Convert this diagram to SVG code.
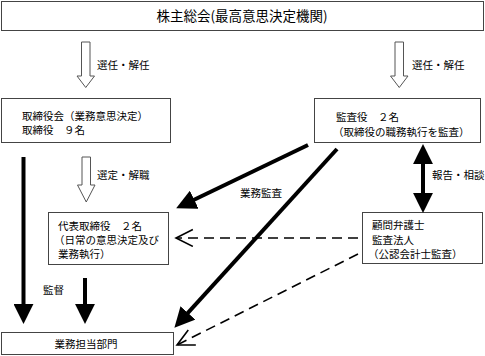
<svg xmlns="http://www.w3.org/2000/svg" width="485" height="356" viewBox="0 0 485 356">
<style>
.box{fill:#fff;stroke:#444;stroke-width:1}
.t{font-family:"Noto Sans CJK JP","Noto Sans",sans-serif;font-size:10.5px;fill:#000}
.title{font-size:13.5px}
.hollow{fill:#fff;stroke:#555;stroke-width:1}
.thick{stroke:#000;stroke-width:4;fill:none}
.dash{stroke:#000;stroke-width:1.6;fill:none;stroke-dasharray:10 6}
</style>
<defs>
<marker id="head" markerUnits="userSpaceOnUse" markerWidth="20" markerHeight="20" viewBox="0 0 18 18" refX="10" refY="9" orient="auto-start-reverse">
<path d="M0,0 L18,9 L0,18 z" fill="#000"/>
</marker>
<marker id="open" markerUnits="userSpaceOnUse" markerWidth="20" markerHeight="20" viewBox="-1 -1 19 19" refX="16" refY="8" orient="auto">
<path d="M0,0 L16,8 L0,16" fill="none" stroke="#000" stroke-width="1.5"/>
</marker>
</defs>

<g id="node-shareholders">
<rect class="box" x="1.5" y="1.5" width="482" height="29"/>
<text class="t title" x="242" y="20.5" text-anchor="middle">株主総会(最高意思決定機関)</text>
</g>

<g id="node-board">
<rect class="box" x="1.5" y="98.5" width="169" height="44"/>
<text class="t" x="22" y="119.5">取締役会（業務意思決定）</text>
<text class="t" x="22" y="133.5">取締役　９名</text>
</g>

<g id="node-auditors">
<rect class="box" x="314.5" y="98.5" width="166" height="44"/>
<text class="t" x="336" y="120.5">監査役　２名</text>
<text class="t" x="333" y="135.5">（取締役の職務執行を監査）</text>
</g>

<g id="node-representative">
<rect class="box" x="48.5" y="212.5" width="120" height="52"/>
<text class="t" x="58" y="229.5">代表取締役　２名</text>
<text class="t" x="54" y="244">（日常の意思決定及び</text>
<text class="t" x="58" y="258.3">業務執行）</text>
</g>

<g id="node-advisors">
<rect class="box" x="362.5" y="212.5" width="120" height="51"/>
<text class="t" x="372" y="229">顧問弁護士</text>
<text class="t" x="372" y="243.5">監査法人</text>
<text class="t" x="368" y="258">（公認会計士監査）</text>
</g>

<g id="node-departments">
<rect class="box" x="1.5" y="332.5" width="172" height="22"/>
<text class="t" x="86" y="347.5" text-anchor="middle">業務担当部門</text>
</g>

<g id="connectors">
<polygon class="hollow" points="81.5,42 90,42 90,76 94.5,76 85.75,87.5 77,76 81.5,76"/>
<text class="t" x="97" y="69">選任・解任</text>
<polygon class="hollow" points="395,42 403.5,42 403.5,76 408,76 399.25,87.5 390.5,76 395,76"/>
<text class="t" x="412" y="69">選任・解任</text>
<polygon class="hollow" points="82,157 90.5,157 90.5,185 95,185 86.25,202 77.5,185 82,185"/>
<text class="t" x="97" y="179">選定・解職</text>

<line class="thick" x1="23.5" y1="157" x2="23.5" y2="315" marker-end="url(#head)"/>
<line class="thick" x1="85" y1="278" x2="85" y2="315" marker-end="url(#head)"/>
<text class="t" x="43" y="294">監督</text>

<line class="thick" x1="308" y1="145" x2="184.2" y2="204.5" marker-end="url(#head)"/>
<text class="t" x="240" y="197">業務監査</text>
<line class="thick" x1="337" y1="149" x2="180.4" y2="321.1" marker-end="url(#head)"/>

<line class="thick" x1="423" y1="153" x2="423" y2="204" marker-start="url(#head)" marker-end="url(#head)"/>
<text class="t" x="432" y="179">報告・相談</text>

<line class="dash" x1="358" y1="238" x2="176" y2="238" marker-end="url(#open)"/>
<line class="dash" x1="358" y1="254" x2="177" y2="345" marker-end="url(#open)"/>
</g>
</svg>
